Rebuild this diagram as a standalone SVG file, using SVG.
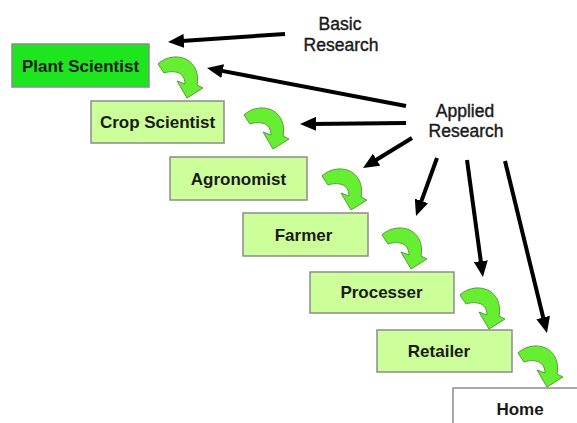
<svg xmlns="http://www.w3.org/2000/svg" width="577" height="423" viewBox="0 0 577 423">
<style>
  .box { fill: #ccff99; stroke: #8c8c8c; stroke-width: 1.5; }
  .box1 { fill: #1ee61e; stroke: #8c8c8c; stroke-width: 1.5; }
  .home { fill: #ffffff; stroke: #8c8c8c; stroke-width: 1.5; }
  .lbl { font-family: "Liberation Sans", Arial, sans-serif; font-weight: bold; font-size: 17px; fill: #1a1a1a; text-anchor: middle; }
  .src { font-family: "Liberation Sans", Arial, sans-serif; font-size: 17.5px; fill: #1a1a1a; stroke: #1a1a1a; stroke-width: 0.4; text-anchor: middle; }
  .conn { stroke: #000; stroke-width: 4; fill: none; marker-end: url(#head); }
  .curl { fill: #66ee33; stroke: #5a9a3a; stroke-width: 1; }
</style>
<defs>
  <marker id="head" markerUnits="userSpaceOnUse" viewBox="0 0 16 14" refX="6" refY="7" markerWidth="16" markerHeight="14" orient="auto">
    <path d="M0,0 L16,7 L0,14 Z" fill="#000"/>
  </marker>
  <path id="curl" class="curl" d="M4,10 C14,0 34,0 41,14 C44,20 44,26 43,31 L49,34 L33,44 L23,27 L31,30 C31,24 28,19 22,18 C17,17 13,18 10,19 Z"/>
</defs>
<rect width="577" height="423" fill="#ffffff"/>

<g id="plant-scientist"><rect class="box1" x="12" y="44" width="137" height="43"/><text class="lbl" x="80.5" y="71.5">Plant Scientist</text></g>
<g id="crop-scientist"><rect class="box" x="91" y="101" width="133" height="42"/><text class="lbl" x="157.5" y="128">Crop Scientist</text></g>
<g id="agronomist"><rect class="box" x="170" y="157" width="137" height="43"/><text class="lbl" x="238.5" y="184.5">Agronomist</text></g>
<g id="farmer"><rect class="box" x="243" y="213" width="125" height="43"/><text class="lbl" x="303.5" y="240.5">Farmer</text></g>
<g id="processer"><rect class="box" x="310" y="272" width="144" height="41"/><text class="lbl" x="381.5" y="298">Processer</text></g>
<g id="retailer"><rect class="box" x="377" y="330" width="135" height="42"/><text class="lbl" x="439" y="357">Retailer</text></g>
<g id="home"><rect class="home" x="453" y="388" width="140" height="45"/><text class="lbl" x="520" y="415">Home</text></g>
<g id="basic-research"><text class="src" x="340" y="30">Basic</text><text class="src" x="341" y="51">Research</text></g>
<g id="applied-research"><text class="src" x="465" y="117">Applied</text><text class="src" x="466" y="137">Research</text></g>

<g id="connectors">
  <line class="conn" x1="285" y1="34" x2="178" y2="41.3"/>
  <line class="conn" x1="406" y1="106" x2="216.8" y2="69.9"/>
  <line class="conn" x1="406" y1="123" x2="310" y2="123.9"/>
  <line class="conn" x1="412" y1="138" x2="371.5" y2="162.8"/>
  <line class="conn" x1="437" y1="158" x2="419.4" y2="206.6"/>
  <line class="conn" x1="467" y1="160" x2="481.6" y2="267.1"/>
  <line class="conn" x1="505" y1="161" x2="544.6" y2="323.3"/>
  <use href="#curl" transform="translate(154,54)"/>
  <use href="#curl" transform="translate(240,105)"/>
  <use href="#curl" transform="translate(318,166)"/>
  <use href="#curl" transform="translate(378,225)"/>
  <use href="#curl" transform="translate(456,285)"/>
  <use href="#curl" transform="translate(514,343)"/>
</g>
</svg>
